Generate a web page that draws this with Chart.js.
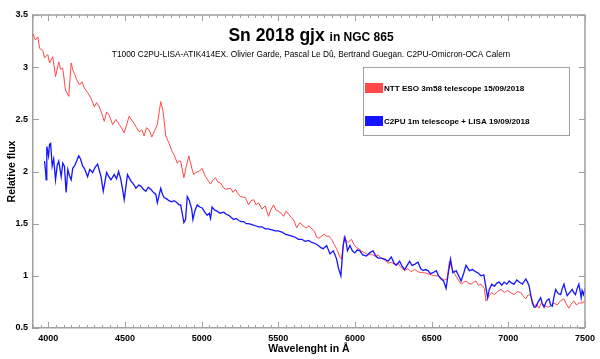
<!DOCTYPE html>
<html>
<head>
<meta charset="utf-8">
<script src="https://cdn.jsdelivr.net/npm/chart.js@4.4.1/dist/chart.umd.min.js"></script>
<style>
  html, body { margin: 0; padding: 0; background: #fff; }
</style>
</head>
<body>
<canvas id="specChart" width="600" height="359"></canvas>
<script>
const titleMain = 'Sn 2018 gjx';
const titleSuffix = 'in NGC 865';
const subtitle = 'T1000 C2PU-LISA-ATIK414EX. Olivier Garde, Pascal Le Dû, Bertrand Guegan. C2PU-Omicron-OCA Calern';
const xTitle = 'Wavelenght in Å';
const yTitle = 'Relative flux';
const xTickLabels = [4000, 4500, 5000, 5500, 6000, 6500, 7000, 7500];
const yTickLabels = [0.5, 1, 1.5, 2, 2.5, 3, 3.5];

const redLabel = 'NTT ESO 3m58 telescope 15/09/2018';
const redWave = [3900, 3915, 3932, 3943, 3964, 3975, 3997, 4008, 4029, 4047, 4068, 4080, 4094, 4112, 4133, 4149, 4160, 4170, 4185, 4203,
  4220, 4235, 4255, 4279, 4300, 4315, 4332, 4350, 4365, 4380, 4397, 4419, 4440, 4462, 4480, 4495, 4527, 4545, 4560, 4575,
  4592, 4610, 4625, 4640, 4657, 4675, 4690, 4711, 4733, 4748, 4766, 4787, 4808, 4820, 4841, 4852, 4863, 4884, 4900, 4916,
  4938, 4949, 4960, 4982, 5003, 5025, 5058, 5075, 5090, 5105, 5123, 5140, 5155, 5188, 5205, 5220, 5235, 5253, 5285, 5306,
  5322, 5339, 5355, 5371, 5393, 5415, 5436, 5450, 5469, 5485, 5501, 5518, 5534, 5550, 5567, 5583, 5599, 5620, 5640, 5653,
  5670, 5685, 5700, 5718, 5735, 5750, 5765, 5782, 5800, 5815, 5830, 5847, 5865, 5880, 5902, 5912, 5930, 5945, 5956, 5977,
  5993, 6010, 6025, 6042, 6064, 6086, 6105, 6129, 6150, 6172, 6194, 6216, 6237, 6259, 6280, 6300, 6324, 6345, 6365, 6389,
  6410, 6432, 6454, 6476, 6497, 6519, 6540, 6562, 6584, 6600, 6616, 6630, 6649, 6670, 6692, 6710, 6724, 6740, 6757, 6775,
  6789, 6805, 6822, 6843, 6854, 6876, 6890, 6909, 6930, 6952, 6975, 6995, 7015, 7038, 7060, 7081, 7100, 7114, 7130, 7146,
  7168, 7185, 7200, 7215, 7233, 7255, 7276, 7298, 7319, 7340, 7362, 7378, 7395, 7410, 7427, 7445, 7460, 7481, 7500];
const redFlux = [3.32, 3.26, 3.29, 3.18, 3.16, 3.09, 3.12, 3.04, 3.10, 2.91, 3.05, 2.98, 2.99, 2.78, 2.72, 3.04, 2.97, 2.94, 2.88, 2.83,
  2.86, 2.80, 2.76, 2.70, 2.62, 2.66, 2.62, 2.55, 2.48, 2.57, 2.54, 2.45, 2.50, 2.45, 2.41, 2.37, 2.53, 2.49, 2.46, 2.42,
  2.38, 2.40, 2.34, 2.42, 2.40, 2.33, 2.38, 2.45, 2.67, 2.58, 2.34, 2.27, 2.19, 2.16, 2.08, 2.10, 2.10, 1.94, 2.05, 2.15,
  2.02, 1.97, 1.99, 2.00, 2.03, 1.95, 1.88, 1.92, 1.94, 1.90, 1.89, 1.85, 1.83, 1.84, 1.80, 1.83, 1.79, 1.76, 1.75, 1.68,
  1.72, 1.73, 1.68, 1.70, 1.64, 1.67, 1.57, 1.63, 1.68, 1.63, 1.62, 1.60, 1.57, 1.62, 1.59, 1.56, 1.54, 1.46, 1.51, 1.49,
  1.47, 1.46, 1.48, 1.45, 1.43, 1.37, 1.36, 1.38, 1.40, 1.38, 1.38, 1.35, 1.30, 1.26, 1.18, 1.16, 1.38, 1.33, 1.32, 1.35,
  1.30, 1.27, 1.26, 1.24, 1.22, 1.20, 1.21, 1.19, 1.20, 1.17, 1.15, 1.12, 1.13, 1.11, 1.12, 1.08, 1.05, 1.07, 1.04, 1.06,
  1.04, 1.03, 1.03, 1.02, 1.01, 1.00, 1.00, 0.98, 0.96, 0.97, 1.14, 1.08, 1.02, 0.97, 0.92, 0.94, 0.95, 0.93, 0.92, 0.94,
  0.95, 0.91, 0.92, 0.88, 0.76, 0.81, 0.84, 0.82, 0.85, 0.87, 0.84, 0.86, 0.84, 0.82, 0.85, 0.84, 0.80, 0.78, 0.82, 0.81,
  0.71, 0.73, 0.69, 0.74, 0.72, 0.70, 0.71, 0.74, 0.72, 0.76, 0.78, 0.73, 0.69, 0.73, 0.76, 0.72, 0.74, 0.74, 0.76];

const blueLabel = 'C2PU 1m telescope + LISA 19/09/2018';
const blueWave = [3975, 3982, 3986, 3990, 4001, 4008, 4015, 4025, 4035, 4047, 4058, 4068, 4084, 4094, 4105, 4116, 4127, 4138, 4149, 4159,
  4170, 4185, 4198, 4210, 4224, 4235, 4256, 4270, 4289, 4305, 4321, 4344, 4358, 4380, 4395, 4408, 4430, 4445, 4458, 4472,
  4484, 4495, 4516, 4538, 4555, 4571, 4590, 4603, 4620, 4636, 4652, 4668, 4685, 4701, 4711, 4733, 4745, 4755, 4770, 4787,
  4805, 4820, 4840, 4852, 4863, 4884, 4895, 4906, 4920, 4935, 4943, 4955, 4971, 4987, 5003, 5020, 5036, 5050, 5058, 5068,
  5085, 5101, 5120, 5144, 5160, 5177, 5193, 5209, 5225, 5242, 5258, 5274, 5290, 5306, 5328, 5350, 5372, 5393, 5415, 5436,
  5458, 5480, 5500, 5523, 5545, 5567, 5588, 5610, 5631, 5653, 5675, 5697, 5718, 5740, 5761, 5777, 5793, 5815, 5837, 5858,
  5870, 5880, 5891, 5908, 5923, 5934, 5945, 5951, 5967, 5983, 5999, 6015, 6032, 6050, 6075, 6095, 6118, 6135, 6151, 6172,
  6194, 6216, 6237, 6255, 6269, 6291, 6308, 6324, 6340, 6356, 6372, 6389, 6411, 6428, 6443, 6460, 6476, 6492, 6508, 6530,
  6545, 6562, 6578, 6594, 6608, 6623, 6638, 6660, 6676, 6692, 6710, 6724, 6746, 6768, 6785, 6801, 6822, 6840, 6854, 6865,
  6876, 6892, 6909, 6925, 6941, 6957, 6973, 6990, 7006, 7022, 7038, 7055, 7071, 7092, 7114, 7125, 7136, 7148, 7157, 7168,
  7179, 7195, 7211, 7222, 7233, 7249, 7265, 7276, 7287, 7298, 7309, 7325, 7341, 7352, 7363, 7373, 7384, 7400, 7416, 7427,
  7438, 7449, 7460, 7470, 7475, 7481, 7490, 7500];
const blueFlux = [2.10, 2.00, 1.92, 2.24, 2.15, 2.26, 2.27, 2.05, 2.12, 1.92, 2.06, 2.10, 1.95, 2.08, 2.05, 1.80, 2.02, 1.96, 1.92, 2.03,
  2.05, 2.10, 2.15, 2.12, 2.05, 2.03, 1.95, 2.02, 1.99, 2.04, 2.07, 1.95, 1.81, 1.99, 1.95, 1.92, 1.97, 1.93, 2.00, 1.93,
  1.83, 1.73, 1.97, 1.91, 1.88, 1.84, 1.87, 1.86, 1.83, 1.81, 1.85, 1.83, 1.80, 1.78, 1.70, 1.84, 1.78, 1.75, 1.74, 1.72,
  1.71, 1.72, 1.70, 1.68, 1.68, 1.51, 1.54, 1.76, 1.72, 1.64, 1.54, 1.62, 1.68, 1.66, 1.65, 1.61, 1.58, 1.60, 1.55, 1.66,
  1.63, 1.62, 1.60, 1.61, 1.59, 1.58, 1.56, 1.54, 1.55, 1.53, 1.52, 1.52, 1.50, 1.50, 1.49, 1.48, 1.47, 1.47, 1.45, 1.45,
  1.44, 1.43, 1.43, 1.42, 1.40, 1.39, 1.38, 1.37, 1.35, 1.35, 1.33, 1.34, 1.32, 1.31, 1.29, 1.27, 1.26, 1.29, 1.21, 1.24,
  1.20, 1.16, 1.08, 1.00, 1.29, 1.37, 1.30, 1.24, 1.29, 1.24, 1.22, 1.25, 1.24, 1.20, 1.19, 1.22, 1.24, 1.19, 1.17, 1.17,
  1.16, 1.14, 1.18, 1.12, 1.10, 1.14, 1.09, 1.06, 1.10, 1.14, 1.10, 1.11, 1.13, 1.07, 1.05, 1.06, 1.05, 1.02, 1.03, 1.05,
  1.00, 0.97, 0.95, 0.88, 1.02, 1.16, 1.03, 1.05, 1.00, 0.95, 1.03, 1.10, 1.05, 1.06, 1.04, 1.03, 1.00, 1.01, 0.89, 0.79,
  0.87, 0.92, 0.90, 0.93, 0.94, 0.91, 0.94, 0.92, 0.95, 0.93, 0.92, 0.96, 0.94, 0.92, 0.97, 0.94, 0.90, 0.80, 0.74, 0.70,
  0.70, 0.75, 0.79, 0.73, 0.70, 0.76, 0.78, 0.72, 0.71, 0.80, 0.87, 0.83, 0.82, 0.88, 0.92, 0.86, 0.81, 0.84, 0.87, 0.84,
  0.82, 0.88, 0.92, 0.84, 0.79, 0.86, 0.82, 0.88];

const redColor = '#ff4848';
const blueColor = '#1414ff';
const axisGray = '#a0a0a0';
const fontFamily = '"Liberation Sans", Arial, Helvetica, sans-serif';

function toPoints(wave, flux) {
  return wave.map((w, i) => ({ x: w, y: flux[i] }));
}

// inward tick marks on all four sides + top/right frame
const frameTicks = {
  id: 'frameTicks',
  afterDraw(chart) {
    const { ctx, chartArea: a } = chart;
    const x = chart.scales.x, y = chart.scales.y;
    ctx.save();
    ctx.strokeStyle = axisGray;
    ctx.lineWidth = 1.5;
    ctx.beginPath();
    ctx.moveTo(a.left, a.top);
    ctx.lineTo(a.right, a.top);
    ctx.lineTo(a.right, a.bottom);
    ctx.stroke();
    ctx.lineWidth = 1;
    ctx.beginPath();
    for (let v = x.min; v <= x.max; v += 50) {
      const px = Math.round(x.getPixelForValue(v)) + 0.5;
      const len = v % 500 === 0 ? 6 : 3;
      ctx.moveTo(px, a.bottom); ctx.lineTo(px, a.bottom - len);
      ctx.moveTo(px, a.top); ctx.lineTo(px, a.top + len);
    }
    yTickLabels.forEach(v => {
      const py = Math.round(y.getPixelForValue(v)) + 0.5;
      ctx.moveTo(a.left, py); ctx.lineTo(a.left + 6, py);
      ctx.moveTo(a.right, py); ctx.lineTo(a.right - 6, py);
    });
    ctx.stroke();
    ctx.restore();
  }
};

// two-size title and credit line inside the plot
const titleBlock = {
  id: 'titleBlock',
  afterDraw(chart) {
    const { ctx, chartArea: a } = chart;
    const cx = (a.left + a.right) / 2 + 2;
    ctx.save();
    ctx.fillStyle = '#000';
    ctx.textBaseline = 'alphabetic';
    ctx.font = 'bold 17.5px ' + fontFamily;
    const w1 = ctx.measureText(titleMain + ' ').width;
    ctx.font = 'bold 12px ' + fontFamily;
    const w2 = ctx.measureText(titleSuffix).width;
    let tx = cx - (w1 + w2) / 2;
    ctx.textAlign = 'left';
    ctx.font = 'bold 17.5px ' + fontFamily;
    ctx.fillText(titleMain, tx, a.top + 26);
    ctx.font = 'bold 12px ' + fontFamily;
    ctx.fillText(titleSuffix, tx + w1, a.top + 26);
    ctx.font = '8.3px ' + fontFamily;
    ctx.textAlign = 'center';
    ctx.fillText(subtitle, cx, a.top + 42);
    ctx.restore();
  }
};

// boxed legend, upper right
const boxLegend = {
  id: 'boxLegend',
  afterDraw(chart) {
    const { ctx, chartArea: a } = chart;
    const left = a.right - 222, top = a.top + 52;
    ctx.save();
    ctx.fillStyle = '#fff';
    ctx.fillRect(left, top, 206, 68);
    ctx.strokeStyle = axisGray;
    ctx.lineWidth = 1;
    ctx.strokeRect(left + 0.5, top + 0.5, 206, 68);
    ctx.font = 'bold 8.1px ' + fontFamily;
    ctx.textBaseline = 'middle';
    ctx.textAlign = 'left';
    chart.data.datasets.slice().reverse().forEach((ds, i) => {
      const ry = top + 16 + i * 33;
      ctx.fillStyle = ds.borderColor;
      ctx.fillRect(left + 2, ry, 18, 10);
      ctx.fillStyle = '#000';
      ctx.fillText(ds.label, left + 21, ry + 5.5);
    });
    ctx.restore();
  }
};

new Chart(document.getElementById('specChart'), {
  type: 'line',
  data: {
    datasets: [
      { label: blueLabel, data: toPoints(blueWave, blueFlux), borderColor: blueColor, borderWidth: 1.3, pointRadius: 0, tension: 0, order: 0 },
      { label: redLabel, data: toPoints(redWave, redFlux), borderColor: redColor, borderWidth: 1, pointRadius: 0, tension: 0, order: 1 }
    ]
  },
  options: {
    responsive: false,
    animation: false,
    devicePixelRatio: 1,
    layout: { padding: { top: 15, right: 12, left: 0, bottom: 0 } },
    plugins: { legend: { display: false }, tooltip: { enabled: false } },
    scales: {
      x: {
        type: 'linear',
        min: 3900,
        max: 7500,
        afterBuildTicks: s => { s.ticks = xTickLabels.map(v => ({ value: v })); },
        afterFit: s => { s.height = 31; },
        grid: { display: false, drawTicks: false },
        border: { color: axisGray, width: 1.5 },
        ticks: { color: '#000', font: { family: fontFamily, size: 9, weight: 'bold' }, padding: 5, maxRotation: 0, autoSkip: false, callback: v => String(v) },
        title: { display: true, text: xTitle, color: '#000', font: { family: fontFamily, size: 10.5, weight: 'bold' }, padding: { top: 0, bottom: 4 } }
      },
      y: {
        min: 0.5,
        max: 3.5,
        afterBuildTicks: s => { s.ticks = yTickLabels.map(v => ({ value: v })); },
        afterFit: s => { s.width = 33; },
        grid: { display: false, drawTicks: false },
        border: { color: axisGray, width: 1.5 },
        ticks: { color: '#000', font: { family: fontFamily, size: 9, weight: 'bold' }, padding: 5, callback: v => String(v) },
        title: { display: true, text: yTitle, color: '#000', font: { family: fontFamily, size: 10.5, weight: 'bold' }, padding: { top: 6, bottom: 0 } }
      }
    }
  },
  plugins: [frameTicks, titleBlock, boxLegend]
});
</script>
</body>
</html>
